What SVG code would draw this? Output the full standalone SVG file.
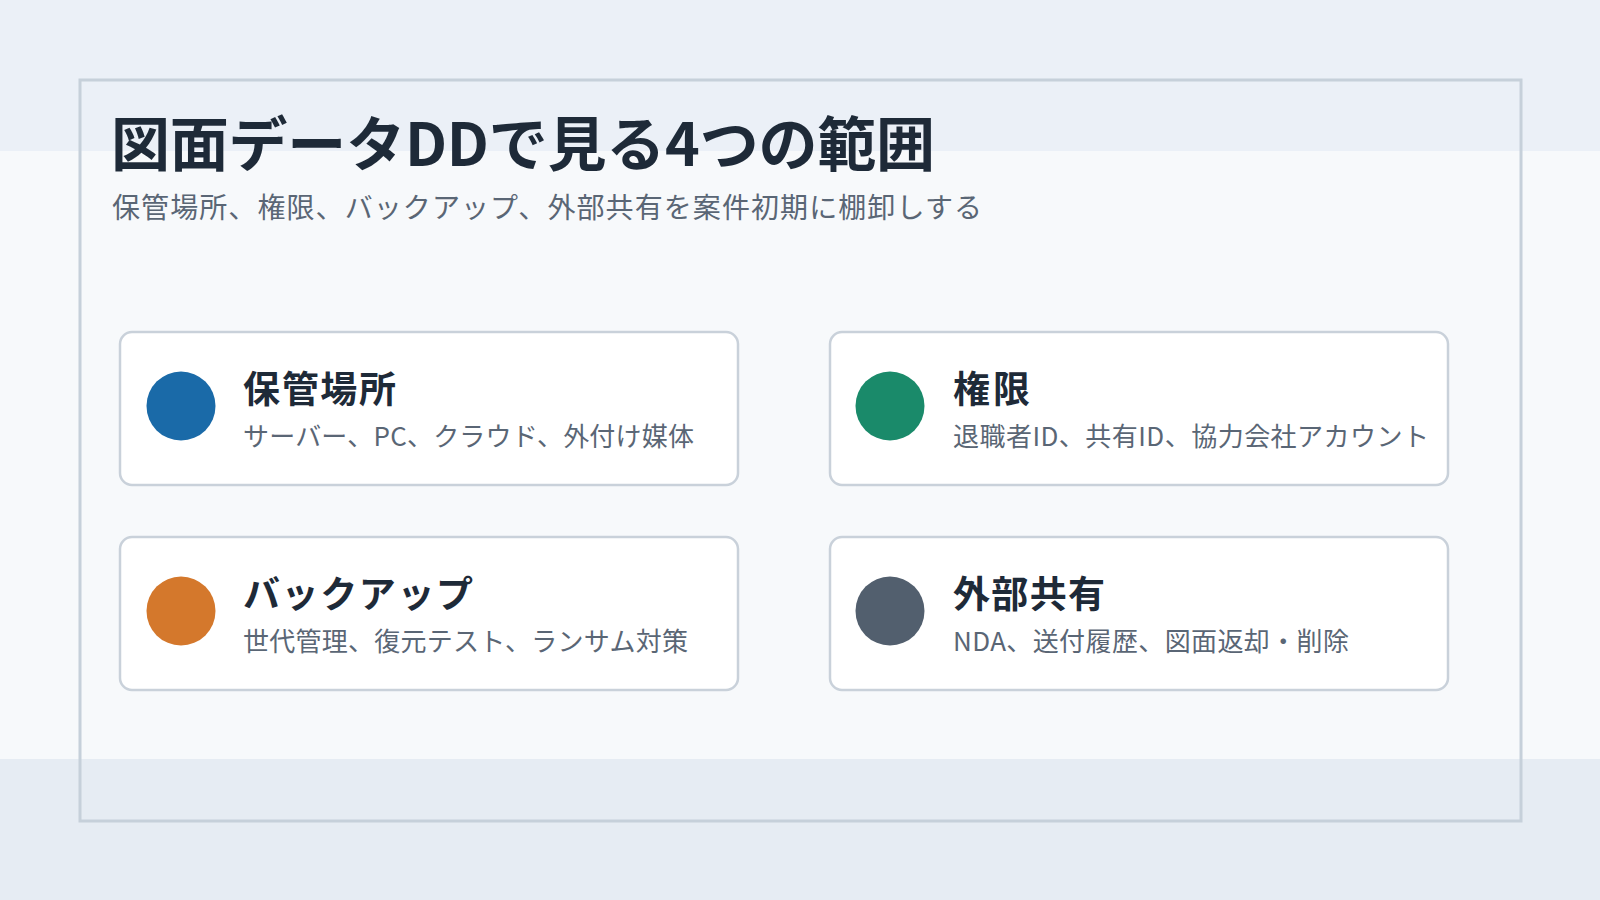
<svg xmlns="http://www.w3.org/2000/svg" width="1600" height="900" viewBox="0 0 1600 900">
<style>
.t{font-family:"Noto Sans CJK JP","Noto Sans",sans-serif}
.title{font-size:59px;font-weight:700;fill:#1e2a38}
.sub{font-size:28px;fill:#5a6675}
.card{fill:#ffffff;stroke:#c9d1da;stroke-width:2.5}
.lab{font-size:37px;font-weight:700;fill:#1e2a38}
.desc{font-size:26px;fill:#5a6675}
</style>
<rect x="0" y="0" width="1600" height="900" fill="#f7f9fb"/>
<rect x="0" y="0" width="1600" height="151" fill="#ebf0f7"/>
<rect x="0" y="759" width="1600" height="141" fill="#e6ecf3"/>
<rect x="80" y="80" width="1441" height="741" fill="none" stroke="#c6d0da" stroke-width="3"/>
<text class="t title" x="111" y="166" textLength="824" lengthAdjust="spacing">図面データDDで見る4つの範囲</text>
<text class="t sub" x="112" y="218" textLength="870" lengthAdjust="spacing">保管場所、権限、バックアップ、外部共有を案件初期に棚卸しする</text>
<g id="node-storage">
<rect class="card" x="120" y="332" width="618" height="153" rx="12"/>
<circle cx="181" cy="406" r="34.5" fill="#1a6aa8"/>
<text class="t lab" x="243" y="403" textLength="153" lengthAdjust="spacing">保管場所</text>
<text class="t desc" x="243" y="446" textLength="451" lengthAdjust="spacing">サーバー、PC、クラウド、外付け媒体</text>
</g>
<g id="node-permission">
<rect class="card" x="830" y="332" width="618" height="153" rx="12"/>
<circle cx="890" cy="406" r="34.5" fill="#1a8a6a"/>
<text class="t lab" x="953" y="403" textLength="77" lengthAdjust="spacing">権限</text>
<text class="t desc" x="953" y="446" textLength="476" lengthAdjust="spacing">退職者ID、共有ID、協力会社アカウント</text>
</g>
<g id="node-backup">
<rect class="card" x="120" y="537" width="618" height="153" rx="12"/>
<circle cx="181" cy="611" r="34.5" fill="#d4782c"/>
<text class="t lab" x="243" y="608" textLength="230" lengthAdjust="spacing">バックアップ</text>
<text class="t desc" x="243" y="651" textLength="445" lengthAdjust="spacing">世代管理、復元テスト、ランサム対策</text>
</g>
<g id="node-external">
<rect class="card" x="830" y="537" width="618" height="153" rx="12"/>
<circle cx="890" cy="611" r="34.5" fill="#525f6e"/>
<text class="t lab" x="953" y="608" textLength="152" lengthAdjust="spacing">外部共有</text>
<text class="t desc" x="953" y="651" textLength="396" lengthAdjust="spacing">NDA、送付履歴、図面返却・削除</text>
</g>
<g id="connectors"></g>
</svg>
